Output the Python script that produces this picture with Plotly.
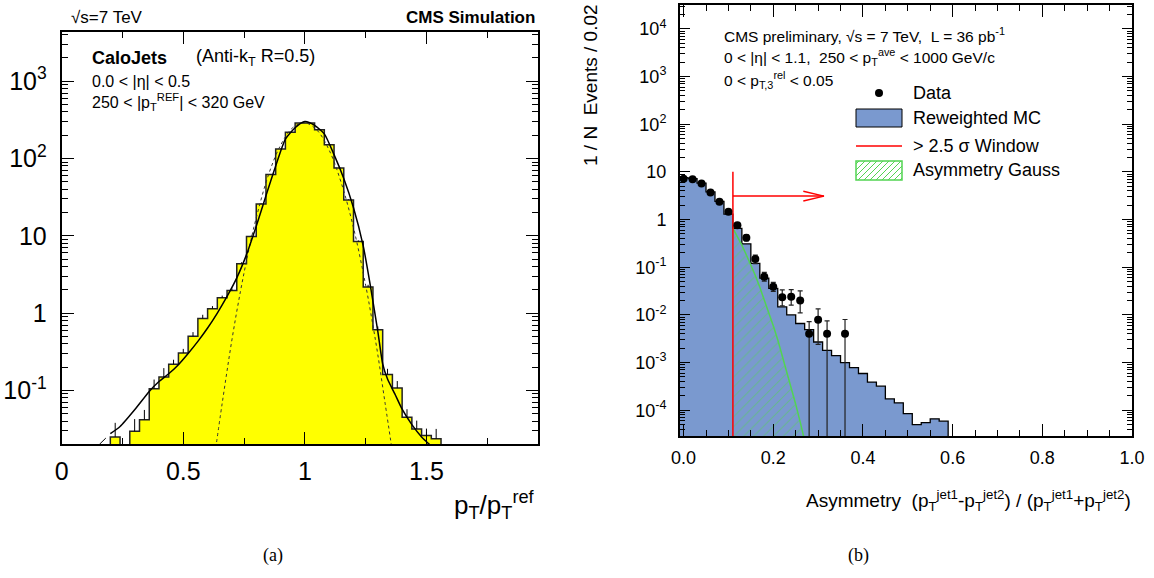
import plotly.graph_objects as go

W, H = 1154, 578
FONT = 'Liberation Sans, Arial, Helvetica, sans-serif'
SERIF = 'Liberation Serif, Times New Roman, serif'

# ---------------- (a) jet response, bins of 0.04 ----------------
resp_centers = [0.22, 0.26, 0.30, 0.34, 0.38, 0.42, 0.46, 0.50, 0.54, 0.58,
                0.62, 0.66, 0.70, 0.74, 0.78, 0.82, 0.86, 0.90, 0.94, 0.98,
                1.02, 1.06, 1.10, 1.14, 1.18, 1.22, 1.26, 1.30, 1.34, 1.38,
                1.42, 1.46, 1.50, 1.54]
resp_counts = [0.025, 0, 0.0295, 0.0418, 0.105, 0.149, 0.217, 0.304, 0.50, 0.85,
               1.14, 1.58, 1.96, 4.35, 9.8, 25.7, 62, 133, 219, 287,
               287, 235, 150, 75, 29, 8.4, 2.17, 0.61, 0.16, 0.107,
               0.045, 0.0316, 0.026, 0.0237]
resp_err_up = [0.013, 0, 0.013, 0.014, 0.033, 0.045, 0.032, 0.04, 0.067, 0.1,
               0.09, 0.1, 0.12, 0.2, 0.3, 0.5, 0.8, 1.2, 1.5, 1.7,
               1.7, 1.5, 1.2, 0.9, 0.5, 0.3, 0.15, 0.06, 0.03, 0.025,
               0.012, 0.009, 0.006, 0.008]
resp_bin_width = 0.04

# full fit (solid) and its faint start, core gaussian (dotted)
fit_start_x = [0.155, 0.20]
fit_start_y = [0.02, 0.0275]
fit_x = [0.20, 0.24, 0.30, 0.36, 0.40, 0.44, 0.48, 0.52, 0.56, 0.60,
         0.64, 0.68, 0.72, 0.76, 0.80, 0.84, 0.88, 0.92, 0.96, 1.00,
         1.04, 1.08, 1.12, 1.16, 1.20, 1.24, 1.27, 1.30, 1.32, 1.34,
         1.37, 1.40, 1.44, 1.48, 1.52]
fit_y = [0.0275, 0.034, 0.056, 0.097, 0.13, 0.164, 0.215, 0.30, 0.43, 0.64,
         1.0, 1.64, 2.85, 5.7, 13.3, 33, 80, 178, 250, 300,
         268, 208, 112, 55, 23, 7.4, 2.2, 0.58, 0.22, 0.14,
         0.09, 0.057, 0.036, 0.025, 0.019]
gaus_x = [0.63, 0.66, 0.70, 0.735, 0.77, 0.80, 0.85, 0.90, 0.95, 1.00,
          1.05, 1.10, 1.15, 1.20, 1.25, 1.28, 1.30, 1.33, 1.36]
gaus_y = [0.015, 0.068, 0.45, 1.9, 6.7, 17, 61, 148, 250, 290,
          232, 128, 48, 12.7, 2.3, 0.69, 0.29, 0.068, 0.016]

resp_yticks = [0.1, 1, 10, 100, 1000]
resp_yticktext = ['10<sup>-1</sup>', '1', '10', '10<sup>2</sup>', '10<sup>3</sup>']
resp_xticks = [0, 0.5, 1, 1.5]
resp_xticktext = ['0', '0.5', '1', '1.5']

# ---------------- (b) dijet asymmetry, bins of 0.02 ----------------
asym_centers = [0.00, 0.02, 0.04, 0.06, 0.08, 0.10, 0.12, 0.14, 0.16, 0.18,
                0.20, 0.22, 0.24, 0.26, 0.28, 0.30, 0.32, 0.34, 0.36, 0.38,
                0.40, 0.42, 0.44, 0.46, 0.48, 0.50, 0.52, 0.54, 0.56, 0.58]
mc_values = [7.6, 7.2, 5.8, 3.8, 2.4, 1.3, 0.65, 0.31, 0.12, 0.059,
             0.036, 0.0148, 0.010, 0.0066, 0.0049, 0.0027, 0.0018, 0.0014, 0.0010, 0.00078,
             0.00059, 0.00039, 0.00032, 0.000173, 0.000143, 0.000085, 0.00005, 0.000055, 0.000066, 0.000059]
asym_bin_width = 0.02

data_x = [0.00, 0.02, 0.04, 0.06, 0.08, 0.10, 0.12, 0.14, 0.16, 0.18,
          0.20, 0.22, 0.24, 0.26, 0.28, 0.30, 0.32, 0.36]
data_y = [7.2, 7.0, 5.7, 3.7, 2.35, 1.45, 0.76, 0.415, 0.149, 0.063,
          0.039, 0.0234, 0.024, 0.020, 0.004, 0.0079, 0.004, 0.004]
data_err_up = [0.3, 0.3, 0.25, 0.2, 0.15, 0.12, 0.08, 0.06, 0.03, 0.015,
               0.009, 0.01, 0.01, 0.012, 0.0032, 0.0055, 0.0035, 0.004]
data_err_dn = [0.3, 0.3, 0.25, 0.2, 0.15, 0.12, 0.08, 0.06, 0.03, 0.012,
               0.008, 0.008, 0.008, 0.009, 0.00399, 0.0055, 0.00399, 0.00399]

asym_gauss_x = [0.11, 0.12, 0.13, 0.14, 0.15, 0.16, 0.17, 0.18, 0.19,
                0.20, 0.21, 0.22, 0.23, 0.24, 0.25, 0.26, 0.27]
asym_gauss_y = [0.65, 0.44, 0.29, 0.18, 0.113, 0.067, 0.038, 0.021, 0.0114,
                0.0059, 0.003, 0.0014, 0.00068, 0.0003, 0.000134, 0.000057, 0.000023]

window_cut = 0.11
window_top = 10
arrow_end = 0.313
arrow_level = 3.1

asym_yticks = [1e-4, 1e-3, 1e-2, 1e-1, 1, 10, 100, 1000, 1e4]
asym_yticktext = ['10<sup>-4</sup>', '10<sup>-3</sup>', '10<sup>-2</sup>', '10<sup>-1</sup>',
                  '1', '10', '10<sup>2</sup>', '10<sup>3</sup>', '10<sup>4</sup>']
asym_xticks = [0, 0.2, 0.4, 0.6, 0.8, 1.0]
asym_xticktext = ['0.0', '0.2', '0.4', '0.6', '0.8', '1.0']

FLOOR_A = 1e-3
FLOOR_B = 1e-6


def px(x):
    return x / W


def py(y):
    return 1 - y / H


def steps(centers, values, width, floor):
    xs, ys = [centers[0] - width / 2], [floor]
    for c, v in zip(centers, values):
        v = v if v > 0 else floor
        xs += [c - width / 2, c + width / 2]
        ys += [v, v]
    xs.append(centers[-1] + width / 2)
    ys.append(floor)
    return xs, ys


fig = go.Figure()

# ---- panel (a)
sx, sy = steps(resp_centers, resp_counts, resp_bin_width, FLOOR_A)
fig.add_trace(go.Scatter(x=sx, y=sy, mode='lines', fill='toself', fillcolor='#ffff00',
                         line=dict(color='#222222', width=1.5), xaxis='x', yaxis='y'))
ex = [c for c, v in zip(resp_centers, resp_counts) if v > 0]
ey = [v for v in resp_counts if v > 0]
eu = [e for e, v in zip(resp_err_up, resp_counts) if v > 0]
fig.add_trace(go.Scatter(x=ex, y=ey, mode='markers', marker=dict(size=1, color='rgba(0,0,0,0)'),
                         error_y=dict(type='data', symmetric=False, array=eu,
                                      arrayminus=[0] * len(eu), color='black', thickness=1, width=0),
                         xaxis='x', yaxis='y'))
fig.add_trace(go.Scatter(x=gaus_x, y=gaus_y, mode='lines', line=dict(color='#333333', width=1, dash='dot', shape='spline'),
                         xaxis='x', yaxis='y'))
fig.add_trace(go.Scatter(x=fit_start_x, y=fit_start_y, mode='lines', line=dict(color='black', width=1, dash='dash'),
                         xaxis='x', yaxis='y'))
fig.add_trace(go.Scatter(x=fit_x, y=fit_y, mode='lines', line=dict(color='black', width=1.5, shape='spline', smoothing=0.6),
                         xaxis='x', yaxis='y'))

# ---- panel (b)
mx, my = steps(asym_centers, mc_values, asym_bin_width, FLOOR_B)
fig.add_trace(go.Scatter(x=mx, y=my, mode='lines', fill='toself', fillcolor='#7a99cf',
                         line=dict(color='black', width=1.3), xaxis='x2', yaxis='y2'))
fig.add_trace(go.Scatter(x=asym_gauss_x + [asym_gauss_x[-1], asym_gauss_x[0]],
                         y=asym_gauss_y + [FLOOR_B, FLOOR_B], mode='lines', fill='toself',
                         fillcolor='rgba(0,0,0,0)', line=dict(width=0),
                         fillpattern=dict(shape='/', fgcolor='#52d452', bgcolor='rgba(0,0,0,0)', size=7, solidity=0.15),
                         xaxis='x2', yaxis='y2'))
fig.add_trace(go.Scatter(x=asym_gauss_x, y=asym_gauss_y, mode='lines', line=dict(color='#52d452', width=1.5),
                         xaxis='x2', yaxis='y2'))
fig.add_trace(go.Scatter(x=[window_cut, window_cut], y=[FLOOR_B, window_top], mode='lines',
                         line=dict(color='red', width=1.5), xaxis='x2', yaxis='y2'))
fig.add_trace(go.Scatter(x=[window_cut, arrow_end], y=[arrow_level, arrow_level], mode='lines',
                         line=dict(color='red', width=1.5), xaxis='x2', yaxis='y2'))
fig.add_trace(go.Scatter(x=[arrow_end - 0.046, arrow_end, arrow_end - 0.046],
                         y=[arrow_level * 1.27, arrow_level, arrow_level / 1.27], mode='lines',
                         line=dict(color='red', width=1.5), xaxis='x2', yaxis='y2'))
fig.add_trace(go.Scatter(x=data_x, y=data_y, mode='markers', marker=dict(size=8, color='black'),
                         error_y=dict(type='data', symmetric=False, array=data_err_up, arrayminus=data_err_dn,
                                      color='#222222', thickness=1.2, width=2.5),
                         xaxis='x2', yaxis='y2'))

axis_common = dict(showline=True, linecolor='black', linewidth=2, mirror='ticks', ticks='inside',
                   tickcolor='black', tickwidth=1, showgrid=False, zeroline=False, tickmode='array',
                   automargin=False)

fig.update_layout(
    width=W, height=H,
    margin=dict(l=0, r=0, t=0, b=0),
    paper_bgcolor='white', plot_bgcolor='white',
    showlegend=False,
    xaxis=dict(axis_common, domain=[px(61.7), px(538.3)], range=[0, 1.96], anchor='y',
               tickvals=resp_xticks, ticktext=resp_xticktext, ticklen=12,
               tickfont=dict(family=FONT, size=25, color='black'), ticklabelstandoff=4,
               minor=dict(ticks='inside', ticklen=6, tickmode='linear', tick0=0, dtick=0.25, tickcolor='black')),
    yaxis=dict(axis_common, domain=[py(444), py(31.7)], type='log', range=[-1.694, 3.64], anchor='x',
               tickvals=resp_yticks, ticktext=resp_yticktext, ticklen=12,
               tickfont=dict(family=FONT, size=25, color='black'), ticklabelstandoff=8,
               minor=dict(ticks='inside', ticklen=6, dtick='D1', tickcolor='black')),
    xaxis2=dict(axis_common, domain=[px(680), px(1132)], range=[-0.008, 1.0], anchor='y2',
                tickvals=asym_xticks, ticktext=asym_xticktext, ticklen=12,
                tickfont=dict(family=FONT, size=18, color='black'), ticklabelstandoff=4,
                minor=dict(ticks='inside', ticklen=6, tickmode='linear', tick0=0, dtick=0.05, tickcolor='black')),
    yaxis2=dict(axis_common, domain=[py(436), py(5)], type='log', range=[-4.54, 4.5], anchor='x2',
                tickvals=asym_yticks, ticktext=asym_yticktext, ticklen=10,
                tickfont=dict(family=FONT, size=18, color='black'), ticklabelstandoff=8,
                minor=dict(ticks='inside', ticklen=5, dtick='D1', tickcolor='black')),
)


def note(text, x, y, size, xanchor='left', yanchor='middle', family=FONT, angle=0):
    fig.add_annotation(text=text, x=px(x), y=py(y), xref='paper', yref='paper', showarrow=False,
                       xanchor=xanchor, yanchor=yanchor, textangle=angle,
                       font=dict(family=family, size=size, color='black'))


# panel (a) texts
note('\u221as=7 TeV', 69, 17, 17)
note('<b>CMS Simulation</b>', 537, 17, 17, xanchor='right')
note('<b>CaloJets</b>', 90, 58, 18)
note('(Anti-k<sub>T</sub> R=0.5)', 194, 58, 18)
note('0.0 &lt; |\u03b7| &lt; 0.5', 90, 81, 16)
note('250 &lt; |p<sub>T</sub><sup>REF</sup>| &lt; 320 GeV', 90, 102, 16)
note('p<sub>T</sub>/p<sub>T</sub><sup>ref</sup>', 537, 505, 26, xanchor='right')
note('(a)', 273, 555, 18, xanchor='center', family=SERIF)

# panel (b) texts
note('1 / N\u00a0\u00a0Events / 0.02', 590, 2, 19, xanchor='center', yanchor='top', angle=-90)
note('CMS preliminary, \u221as = 7 TeV,\u00a0\u00a0L = 36 pb<sup>-1</sup>', 722, 35, 15.5)
note('0 &lt; |\u03b7| &lt; 1.1,\u00a0\u00a0250 &lt; p<sub>T</sub><sup>ave</sup> &lt; 1000 GeV/c', 722, 57, 15.5)
note('0 &lt; p<sub>T,3</sub><sup>rel</sup> &lt; 0.05', 722, 80, 15.5)
note('Asymmetry\u00a0\u00a0(p<sub>T</sub><sup>jet1</sup>-p<sub>T</sub><sup>jet2</sup>) / '
     '(p<sub>T</sub><sup>jet1</sup>+p<sub>T</sub><sup>jet2</sup>)', 1133, 500, 19, xanchor='right')
note('(b)', 858, 555, 18, xanchor='center', family=SERIF)

# legend of panel (b), drawn by hand like the ROOT TLegend
note('Data', 911, 93, 18)
note('Reweighted MC', 911, 118, 18)
note('&gt; 2.5 \u03c3 Window', 911, 146, 18)
note('Asymmetry Gauss', 911, 170, 18)

kx0, kx1 = 856, 902
fig.add_shape(type='circle', xref='paper', yref='paper', x0=px(875), x1=px(883), y0=py(97), y1=py(89),
              fillcolor='black', line=dict(color='black', width=0))
fig.add_shape(type='rect', xref='paper', yref='paper', x0=px(kx0), x1=px(kx1), y0=py(127), y1=py(109),
              fillcolor='#7a99cf', line=dict(color='black', width=1))
fig.add_shape(type='line', xref='paper', yref='paper', x0=px(kx0), x1=px(kx1), y0=py(146), y1=py(146),
              line=dict(color='red', width=1.5))
hy0, hy1 = 161, 180
fig.add_shape(type='rect', xref='paper', yref='paper', x0=px(kx0), x1=px(kx1), y0=py(hy1), y1=py(hy0),
              line=dict(color='#52d452', width=1.5))
w_box, h_box = kx1 - kx0, hy1 - hy0
for c in range(-h_box + 3, w_box, 6):
    x_a, y_a = kx0 + c, hy1
    x_b, y_b = kx0 + c + h_box, hy0
    if c < 0:
        x_a, y_a = kx0, hy1 + c
    if c + h_box > w_box:
        x_b, y_b = kx1, hy0 + (c + h_box - w_box)
    fig.add_shape(type='line', xref='paper', yref='paper', x0=px(x_a), y0=py(y_a), x1=px(x_b), y1=py(y_b),
                  line=dict(color='#52d452', width=1))

# the page body has a default 8px margin; drop it so the figure sits at the window origin
fig.write_html('out.html', config={'displayModeBar': False},
               post_script="document.body.style.margin='0';")
